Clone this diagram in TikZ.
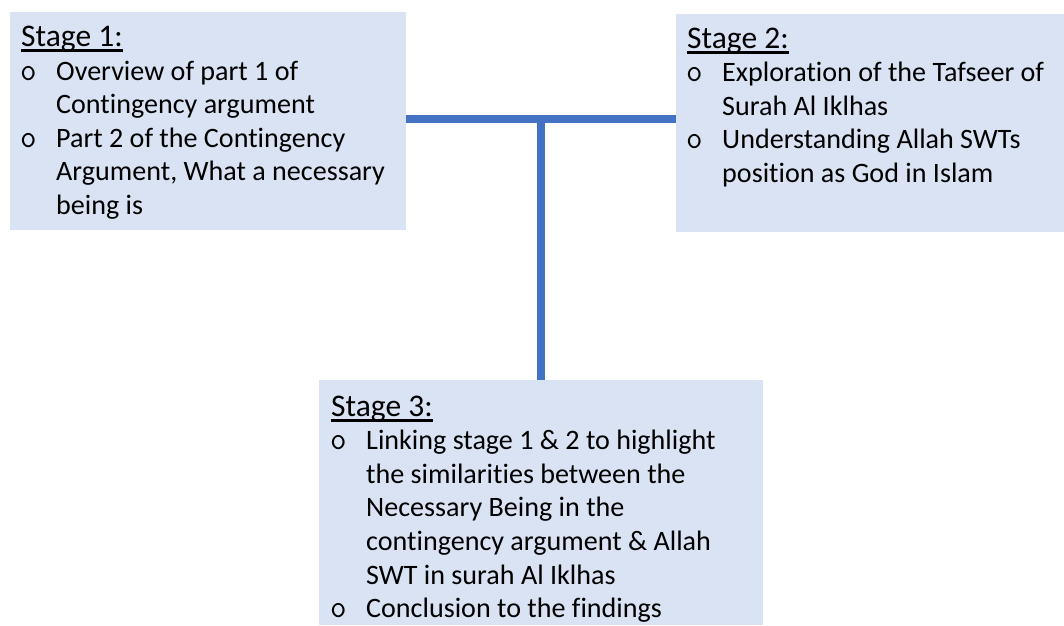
\documentclass[tikz,border=0pt]{standalone}
\usepackage{fontspec}
\setmainfont{Carlito}[Ligatures={NoCommon}]
\definecolor{boxfill}{HTML}{DAE3F3}
\definecolor{linkblue}{HTML}{4472C4}
\newcommand{\headul}[1]{\setbox0\hbox{#1}\rlap{\rule[-5.5pt]{\wd0}{2.4pt}}\box0}
\tikzset{
  box/.style={fill=boxfill, draw=none, anchor=north west, inner sep=0pt, outer sep=0pt},
  txt/.style={anchor=base west, inner sep=0pt, text=black, font=\fontsize{28.1}{33.6}\selectfont},
  head/.style={anchor=base west, inner sep=0pt, text=black, font=\fontsize{31.5}{33.6}\selectfont},
  bul/.style={anchor=base west, inner sep=0pt, text=black, font=\ttfamily\fontsize{32}{33.6}\selectfont},
  link/.style={draw=linkblue, line width=8.5pt}
}
\begin{document}
\begin{tikzpicture}[x=1pt, y=-1pt]
\useasboundingbox (0,0) rectangle (1064,625);
% boxes
\node[box, minimum width=396pt, minimum height=218pt] (b1) at (10,12) {};
\node[box, minimum width=388pt, minimum height=218pt] (b2) at (676,14) {};
\node[box, minimum width=444pt, minimum height=245pt] (b3) at (319,380) {};
% connectors
\coordinate (j) at (541,119);
\draw[link] (b1.east |- j) -- (b2.west |- j);
\draw[link] (j) -- (b3.north);
% stage 1 text
\node[head] (s1h) at (21,46) {\headul{Stage 1:}};
\node[bul] (s1b1) at (20,80) {o};
\node[txt] (s1l1) at (56,80) {Overview of part 1 of};
\node[txt] (s1l2) at (56,113.6) {Contingency argument};
\node[bul] (s1b2) at (20,147.2) {o};
\node[txt] (s1l3) at (56,147.2) {Part 2 of the Contingency};
\node[txt] (s1l4) at (56,180.8) {Argument, What a necessary};
\node[txt] (s1l5) at (56,214.4) {being is};
% stage 2 text
\node[head] (s2h) at (687,48) {\headul{Stage 2:}};
\node[bul] (s2b1) at (686,81.6) {o};
\node[txt] (s2l1) at (722,81.6) {Exploration of the Tafseer of};
\node[txt] (s2l2) at (722,115.2) {Surah Al Iklhas};
\node[bul] (s2b2) at (686,148.8) {o};
\node[txt] (s2l3) at (722,148.8) {Understanding Allah SWTs};
\node[txt] (s2l4) at (722,182.4) {position as God in Islam};
% stage 3 text
\node[head] (s3h) at (331,416) {\headul{Stage 3:}};
\node[bul] (s3b1) at (330,449.6) {o};
\node[txt] (s3l1) at (366,449.6) {Linking stage 1 \& 2 to highlight};
\node[txt] (s3l2) at (366,483.2) {the similarities between the};
\node[txt] (s3l3) at (366,516.8) {Necessary Being in the};
\node[txt] (s3l4) at (366,550.4) {contingency argument \& Allah};
\node[txt] (s3l5) at (366,584) {SWT in surah Al Iklhas};
\node[bul] (s3b2) at (330,617.6) {o};
\node[txt] (s3l6) at (366,617.6) {Conclusion to the findings};
\end{tikzpicture}
\end{document}
